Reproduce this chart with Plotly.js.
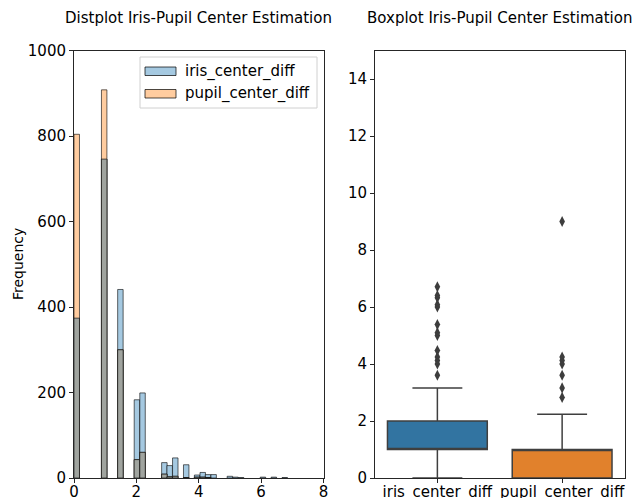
<!DOCTYPE html>
<html>
<head>
<meta charset="utf-8">
<script src="https://cdn.plot.ly/plotly-3.0.1.min.js"></script>
<style>html,body{margin:0;padding:0;background:#fff}#chart{width:633px;height:498px}</style>
</head>
<body>
<div id="chart"></div>
<script>
// ---- Histogram data (left panel) ----
const BIN_WIDTH = 0.1755;
const irisBinStart = [0, 0.88, 1.40, 1.93, 2.11, 2.81, 2.98, 3.16, 3.51, 3.86, 4.04, 4.21, 4.39, 4.91, 5.09, 5.27, 5.97, 6.32, 6.67];
const irisCounts   = [374, 746, 441, 183, 199, 36, 29, 47, 31, 7, 13, 8, 8, 4, 2, 1, 2, 2, 1];
const pupilBinStart = [0, 0.88, 1.40, 1.93, 2.11, 2.81, 2.98, 3.16, 3.51, 3.86, 4.04, 4.21];
const pupilCounts   = [804, 908, 300, 43, 60, 9, 3, 4, 1, 2, 2, 1];

// ---- Boxplot data (right panel) ----
const boxCats = ['iris_center_diff', 'pupil_center_diff'];
const boxQ1 = [1, 0];
const boxMedian = [1, 1];
const boxQ3 = [2, 1];
const boxLowerFence = [0, 0];
const boxUpperFence = [3.162, 2.236];
const irisOutliers = [3.606, 4.0, 4.123, 4.243, 4.472, 5.0, 5.099, 5.385, 6.0, 6.083, 6.325, 6.403, 6.708];
const pupilOutliers = [2.828, 3.162, 3.606, 4.0, 4.123, 4.243, 9.0];

const seriesNames = ['iris_center_diff', 'pupil_center_diff'];
const histTitle = 'Distplot Iris-Pupil Center Estimation';
const boxTitle = 'Boxplot Iris-Pupil Center Estimation';

// overlap (min of the two series at shared bins)
const overlapX = [], overlapY = [];
irisBinStart.forEach((b, i) => {
  const j = pupilBinStart.indexOf(b);
  if (j >= 0) { overlapX.push(b); overlapY.push(Math.min(irisCounts[i], pupilCounts[j])); }
});

const BLUE = '#a5c9e1', ORANGE = '#ffcc9f', GRAY = '#a0a49f';
const EDGE = {color: 'rgba(0,0,0,0.6)', width: 1};

const traces = [
  {type: 'bar', x: irisBinStart, y: irisCounts, width: BIN_WIDTH, offset: 0,
   marker: {color: BLUE, line: EDGE}, name: seriesNames[0], showlegend: false, xaxis: 'x', yaxis: 'y'},
  {type: 'bar', x: pupilBinStart, y: pupilCounts, width: BIN_WIDTH, offset: 0,
   marker: {color: ORANGE, line: EDGE}, name: seriesNames[1], showlegend: false, xaxis: 'x', yaxis: 'y'},
  {type: 'bar', x: overlapX, y: overlapY, width: BIN_WIDTH, offset: 0,
   marker: {color: GRAY, line: EDGE}, name: 'overlap', showlegend: false, xaxis: 'x', yaxis: 'y'},
  {type: 'box', x: [boxCats[0]], q1: [boxQ1[0]], median: [boxMedian[0]], q3: [boxQ3[0]],
   lowerfence: [boxLowerFence[0]], upperfence: [boxUpperFence[0]], width: 0.8, whiskerwidth: 0.5,
   fillcolor: '#3274a1', line: {color: '#3f3f3f', width: 1.5}, boxpoints: false,
   showlegend: false, xaxis: 'x2', yaxis: 'y2'},
  {type: 'box', x: [boxCats[1]], q1: [boxQ1[1]], median: [boxMedian[1]], q3: [boxQ3[1]],
   lowerfence: [boxLowerFence[1]], upperfence: [boxUpperFence[1]], width: 0.8, whiskerwidth: 0.5,
   fillcolor: '#e1812c', line: {color: '#3f3f3f', width: 1.5}, boxpoints: false,
   showlegend: false, xaxis: 'x2', yaxis: 'y2'},
  {type: 'scatter', mode: 'markers', x: irisOutliers.map(() => boxCats[0]), y: irisOutliers,
   marker: {symbol: 'diamond-tall', size: 8, color: '#3d3d3d'}, showlegend: false, xaxis: 'x2', yaxis: 'y2'},
  {type: 'scatter', mode: 'markers', x: pupilOutliers.map(() => boxCats[1]), y: pupilOutliers,
   marker: {symbol: 'diamond-tall', size: 8, color: '#3d3d3d'}, showlegend: false, xaxis: 'x2', yaxis: 'y2'}
];

const W = 633, H = 498;
const px = v => v / W, py = v => 1 - v / H;
const FONT = 'DejaVu Sans, sans-serif';
const axisCommon = {
  showgrid: false, zeroline: false, showline: true, mirror: true,
  linecolor: '#262626', linewidth: 1, ticks: 'outside', ticklen: 4, tickwidth: 1,
  tickcolor: '#262626', tickfont: {family: FONT, size: 15, color: '#000'}, automargin: false, fixedrange: true
};

const layout = {
  width: W, height: H, margin: {l: 0, r: 0, t: 0, b: 0},
  paper_bgcolor: '#fff', plot_bgcolor: '#fff',
  barmode: 'overlay', boxmode: 'overlay', showlegend: false,
  xaxis: Object.assign({}, axisCommon, {domain: [px(74), px(323.5)], range: [0, 8], tickvals: [0, 2, 4, 6, 8], anchor: 'y', ticklabelstandoff: -4}),
  yaxis: Object.assign({}, axisCommon, {domain: [1 - 478 / H, 1 - 50.5 / H], range: [0, 1000], tickvals: [0, 200, 400, 600, 800, 1000], anchor: 'x'}),
  xaxis2: Object.assign({}, axisCommon, {domain: [px(375), px(624.5)], type: 'category', categoryarray: boxCats, range: [-0.5, 1.5], anchor: 'y2', ticklabelstandoff: -4}),
  yaxis2: Object.assign({}, axisCommon, {domain: [1 - 478 / H, 1 - 50.5 / H], range: [0, 15], tickvals: [0, 2, 4, 6, 8, 10, 12, 14], anchor: 'x2'}),
  annotations: [
    {text: histTitle, xref: 'paper', yref: 'paper', x: px(198.75), y: py(18), xanchor: 'center', yanchor: 'middle', showarrow: false, font: {family: FONT, size: 15, color: '#000'}},
    {text: boxTitle, xref: 'paper', yref: 'paper', x: px(499.8), y: py(18), xanchor: 'center', yanchor: 'middle', showarrow: false, font: {family: FONT, size: 15, color: '#000'}},
    {text: 'Frequency', xref: 'paper', yref: 'paper', x: px(18), y: py(264), textangle: -90, xanchor: 'center', yanchor: 'middle', showarrow: false, font: {family: FONT, size: 14, color: '#000'}},
    {text: seriesNames[0], xref: 'paper', yref: 'paper', x: px(183), y: py(71), xanchor: 'left', yanchor: 'middle', showarrow: false, font: {family: FONT, size: 15, color: '#000'}},
    {text: seriesNames[1], xref: 'paper', yref: 'paper', x: px(183), y: py(93.5), xanchor: 'left', yanchor: 'middle', showarrow: false, font: {family: FONT, size: 15, color: '#000'}}
  ],
  shapes: [
    {type: 'rect', xref: 'paper', yref: 'paper', x0: px(140), x1: px(317), y0: py(108), y1: py(57), line: {color: '#d0d0d0', width: 1}, fillcolor: 'rgba(255,255,255,0.8)'},
    {type: 'rect', xref: 'paper', yref: 'paper', x0: px(145), x1: px(176), y0: py(75.5), y1: py(67), line: {color: 'rgba(0,0,0,0.7)', width: 1}, fillcolor: BLUE},
    {type: 'rect', xref: 'paper', yref: 'paper', x0: px(145), x1: px(176), y0: py(98), y1: py(89.5), line: {color: 'rgba(0,0,0,0.7)', width: 1}, fillcolor: ORANGE}
  ]
};

Plotly.newPlot('chart', traces, layout, {staticPlot: true, displayModeBar: false});
</script>
</body>
</html>
